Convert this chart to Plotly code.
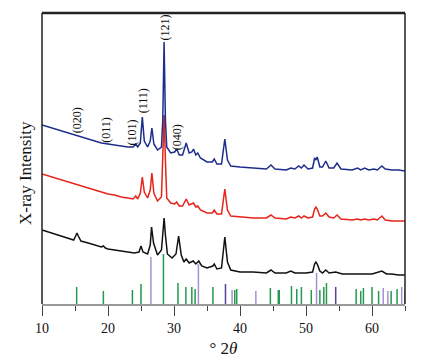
import plotly.graph_objects as go

# ---- data (intensity in arbitrary offset units) ----
blue_x = [10, 11, 12, 13, 14, 15, 16, 17, 18, 19, 20, 21, 22, 23, 23.8, 24.2, 24.5, 24.9, 25.2, 25.5, 26.0, 26.4, 26.65, 26.95, 27.5, 28.1, 28.3, 28.5, 28.7, 28.9, 29.5, 30.1, 30.4, 30.8, 31.3, 31.85, 32.3, 32.7, 32.95, 33.3, 33.6, 34.0, 35.0, 35.8, 36.1, 36.5, 37.2, 37.7, 38.1, 38.6, 40, 42, 44, 44.7, 45.3, 47, 47.7, 48.3, 48.9, 49.3, 49.7, 50.3, 51.0, 51.3, 51.5, 51.7, 52.1, 52.5, 53.0, 53.5, 54.2, 54.7, 55.3, 57, 57.8, 58.3, 58.9, 59.5, 60.3, 60.8, 61.5, 62.0, 63, 64, 65]
blue_y = [179, 177, 175, 173, 171, 169, 167, 165, 163, 161, 160, 159, 158, 157, 157, 160, 157, 161, 187, 163, 157, 163, 176, 160, 154, 157, 184, 262, 184, 157, 151, 152, 155, 149, 149, 161, 151, 152, 155, 149, 151, 146, 142, 142, 145, 140, 140, 165, 144, 138, 137, 136, 135, 139, 135, 134, 136, 135, 138, 136, 139, 135, 136, 146, 144, 147, 137, 137, 143, 136, 136, 141, 135, 134, 136, 134, 136, 134, 135, 134, 138, 135, 134, 134, 133]

red_x = blue_x
red_y = [130, 128, 126, 124, 122, 120, 118, 116, 114, 112, 110, 109, 107, 106, 105, 108, 105, 111, 127, 112, 106, 114, 131, 111, 103, 107, 144, 189, 144, 106, 101, 100, 102, 98, 98, 105, 99, 100, 101, 97, 98, 94, 91, 91, 94, 90, 90, 115, 94, 88, 87, 86, 86, 89, 86, 85, 87, 86, 88, 86, 88, 86, 87, 95, 97, 95, 88, 88, 91, 87, 86, 89, 85, 84, 85, 84, 85, 84, 85, 84, 88, 84, 83, 83, 83]

black_x = [10, 11, 12, 13, 14, 14.8, 15.1, 15.3, 15.5, 15.9, 17, 18, 19, 19.3, 19.6, 20, 21, 22, 23, 24, 24.7, 25.0, 25.3, 26.0, 26.4, 26.6, 26.9, 27.5, 28.1, 28.3, 28.5, 28.7, 29.0, 29.7, 30.3, 30.7, 31.1, 31.5, 31.85, 32.3, 32.9, 33.3, 33.75, 34.2, 35.0, 35.9, 36.1, 36.5, 37.2, 37.7, 38.1, 38.6, 40, 42, 44, 44.7, 45.3, 47, 47.7, 48.3, 49, 50, 51.0, 51.3, 51.5, 51.7, 52.1, 52.5, 53.0, 53.5, 54.5, 55.5, 58, 60, 61.5, 62.2, 63, 64, 65]
black_y = [74, 72, 70, 68, 66, 64, 68, 71, 68, 63, 61, 59, 57, 58, 56, 55, 54, 53, 52, 51, 52, 58, 52, 50, 59, 77, 61, 49, 54, 69, 86, 69, 50, 46, 50, 68, 49, 42, 45, 41, 43, 40, 43, 38, 36, 38, 40, 35, 36, 67, 42, 34, 32, 32, 31, 34, 31, 31, 33, 31, 31, 31, 32, 40, 42, 40, 33, 31, 34, 31, 32, 30, 30, 30, 33, 30, 30, 29, 29]

green_pos = [15.25, 19.3, 23.7, 25.0, 28.4, 30.6, 31.8, 32.7, 33.2, 35.9, 39.2, 39.5, 44.6, 45.8, 45.95, 47.8, 48.6, 49.3, 50.8, 52.1, 52.7, 53.1, 57.6, 58.3, 58.7, 60.0, 61.0, 62.9, 63.8, 65.0]
green_int = [17, 13, 14, 20, 50, 21, 17, 17, 15, 17, 14, 15, 16, 14, 14, 18, 15, 17, 14, 14, 17, 21, 15, 13, 16, 17, 13, 13, 15, 13]
purple_pos = [26.5, 33.7, 38.8, 42.4, 51.6, 61.7, 62.4, 64.5]
purple_int = [47, 40, 14, 13, 31, 16, 13, 17]
purple_dark_pos = [37.8, 54.5]
purple_dark_int = [20, 17]

peak_labels = ["(020)", "(011)", "(101)", "(111)", "(121)", "(040)"]
label_x = [15.35, 19.65, 23.7, 25.35, 28.7, 30.5]
label_y = [184, 174, 172, 203, 277, 167]

x_ticks = [10, 20, 30, 40, 50, 60]


def sticks(pos, inten):
    xs, ys = [], []
    for p, h in zip(pos, inten):
        xs += [p, p, None]
        ys += [0, h, None]
    return xs, ys


fig = go.Figure()
for pos, inten, col in [(green_pos, green_int, "#23994f"),
                        (purple_pos, purple_int, "#a88fd2"),
                        (purple_dark_pos, purple_dark_int, "#5b3f9e")]:
    sx, sy = sticks(pos, inten)
    fig.add_trace(go.Scatter(x=sx, y=sy, mode="lines",
                             line=dict(color=col, width=1.5),
                             showlegend=False, hoverinfo="skip"))

for xs, ys, col in [(black_x, black_y, "#111111"),
                    (red_x, red_y, "#e8231b"),
                    (blue_x, blue_y, "#1c2d8c")]:
    fig.add_trace(go.Scatter(x=xs, y=ys, mode="lines",
                             line=dict(color=col, width=1.5),
                             showlegend=False))

serif = "Liberation Serif, Times New Roman, serif"

for t, lx, ly in zip(peak_labels, label_x, label_y):
    fig.add_annotation(x=lx, y=ly, text=t, textangle=-90, showarrow=False,
                       xanchor="center", yanchor="middle",
                       font=dict(family=serif, size=12, color="#111"))

fig.add_annotation(xref="paper", yref="paper", x=-0.047, y=0.45,
                   xanchor="center", yanchor="middle",
                   text="X-ray Intensity", textangle=-90, showarrow=False,
                   font=dict(family=serif, size=17, color="#111"))

# frame: top, left, right
for x0, y0, x1, y1, w in [(0, 1, 1, 1, 2.5), (0, 0, 0, 1, 1.5), (1, 0, 1, 1, 1.5)]:
    fig.add_shape(type="line", xref="paper", yref="paper", x0=x0, y0=y0,
                  x1=x1, y1=y1, line=dict(color="#222", width=w))

# page body keeps an 8px default margin, so the figure is 8px smaller
fig.update_layout(
    width=418, height=354,
    margin=dict(l=34, r=21, t=5, b=58),
    paper_bgcolor="white", plot_bgcolor="white",
    font=dict(family=serif, color="#111"),
    xaxis=dict(range=[10, 65], tickvals=x_ticks, ticks="outside", ticklen=10,
               tickwidth=1.3, tickcolor="#444", showline=True, linecolor="#999",
               linewidth=1.5, showgrid=False, zeroline=False,
               tickfont=dict(family=serif, size=14, color="#111"),
               minor=dict(ticks="outside", ticklen=5, tickwidth=1.3,
                          tickcolor="#444", tickvals=[15, 25, 35, 45, 55, 65]),
               title=dict(text="° 2<i>θ</i>", font=dict(family=serif, size=17),
                          standoff=8)),
    yaxis=dict(range=[0, 291], showticklabels=False, ticks="", showgrid=False,
               zeroline=False, showline=False),
)

fig.write_html("out.html")
